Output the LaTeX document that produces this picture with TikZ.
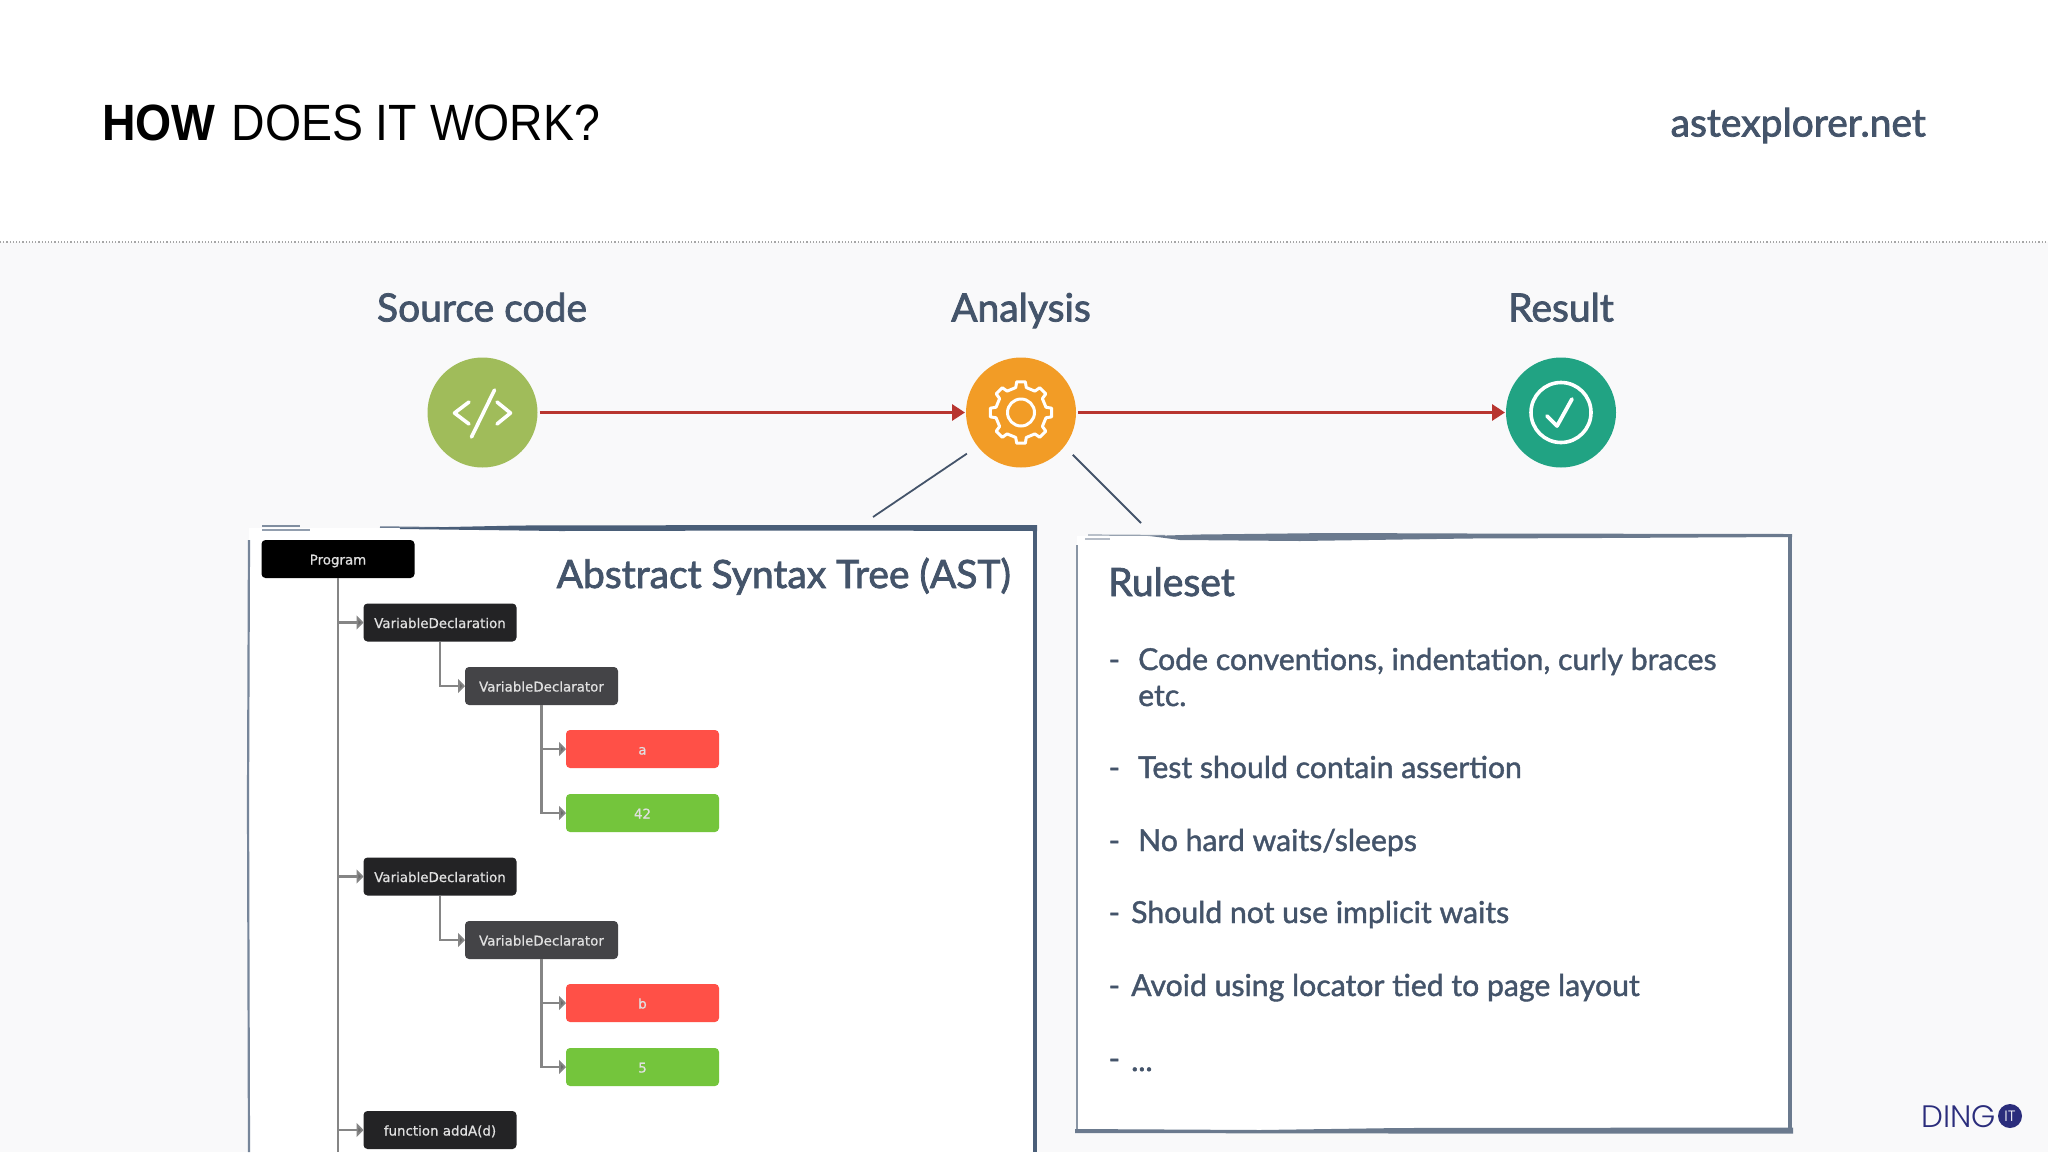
\documentclass[tikz,border=0pt]{standalone}
\usepackage{fontspec}
\usetikzlibrary{arrows.meta,calc}
\setmainfont{Lato}
\newfontfamily\latom{Lato}[FakeBold=2]
\newfontfamily\latos{Lato}[FakeBold=1.4]
\newfontfamily\rob{Liberation Sans}[FakeStretch=0.91]
\newfontfamily\treef{DejaVu Sans}[FakeBold=0.8]
\newfontfamily\pop{Poppins}[UprightFont=* Light]
\definecolor{slate}{HTML}{44546A}
\definecolor{bord}{HTML}{4A5E78}
\definecolor{bordb}{HTML}{6B7A8E}
\definecolor{page}{HTML}{F9F9FA}
\definecolor{redline}{HTML}{B8352F}
\definecolor{treeline}{HTML}{858585}
\definecolor{dingc}{HTML}{2B2D7C}
\definecolor{cgreen}{HTML}{A0BC5A}
\definecolor{corange}{HTML}{F29C26}
\definecolor{cteal}{HTML}{21A383}
\definecolor{tblack}{HTML}{000000}
\definecolor{tdark}{HTML}{232325}
\definecolor{tmid}{HTML}{444447}
\definecolor{tred}{HTML}{FF5047}
\definecolor{tgreen}{HTML}{74C53C}
\tikzset{
  x=1pt,y=-1pt,
  stepcirc/.style={circle,minimum size=110pt,inner sep=0pt,outer sep=0pt},
  head/.style={font=\fontsize{39}{46}\selectfont\latom,text=slate,inner sep=0pt,anchor=base},
  flow/.style={draw=redline,line width=3pt,-{Triangle[length=13pt,width=16pt]},shorten <=2pt,shorten >=1pt},
  icon/.style={draw=white,line width=3.6pt,line cap=round,line join=round},
  tie/.style={draw=slate,line width=1.8pt},
  treebox/.style={rounded corners=4pt,minimum width=153pt,minimum height=38pt,inner sep=0pt,outer sep=0pt,text height=12pt,text depth=1pt,font=\fontsize{13.4}{15}\selectfont\treef,text=white!88!black},
  tline/.style={draw=treeline,line width=2.6pt,-{Triangle[length=7pt,width=14pt,fill=black!58]}},
  rulet/.style={anchor=base west,inner sep=0pt,font=\fontsize{30.2}{36}\selectfont\latos,text=slate},
  big/.style={inner sep=0pt,font=\fontsize{39}{46}\selectfont\latom,text=slate,anchor=base west}
}
\begin{document}
\begin{tikzpicture}
\useasboundingbox (0,0) rectangle (2048,1152);
% page
\fill[white] (0,0) rectangle (2048,242);
\fill[page] (0,242) rectangle (2048,1152);
\draw[gray!70,line width=1.2pt,dotted] (0,242) -- (2048,242);
% heading
\node[anchor=base west,inner sep=0pt,text=black] (title) at (102,140)
  {\fontsize{51}{60}\selectfont\rob{\bfseries HOW}\hspace{3pt} DOES IT WORK?};
\node[anchor=base east,inner sep=0pt,text=slate,font=\fontsize{39}{46}\selectfont\latom] (site) at (1926,136.5) {astexplorer.net};
% flow labels
\node[head] (lsrc) at (482,321.5) {Source code};
\node[head] (lana) at (1021,321.5) {Analysis};
\node[head] (lres) at (1561,321.5) {Result};
% circles
\node[stepcirc,fill=cgreen] (src) at (482.5,412.5) {};
\node[stepcirc,fill=corange] (ana) at (1021,412.5) {};
\node[stepcirc,fill=cteal] (res) at (1561,412.5) {};
\draw[flow] (src) -- (ana);
\draw[flow] (ana) -- (res);
% code icon
\draw[icon] (469,402) -- (454.5,413) -- (469,424);
\draw[icon] (497,402) -- (510.5,413) -- (497,424);
\draw[icon] (494.5,390) -- (471.5,437);
% gear icon
\draw[icon,line width=3pt] ([shift={(-12:25.5)}]ana.center)
  \foreach \a in {0,45,...,315} {
    -- ([shift={(\a-12:25.5)}]ana.center)
    -- ([shift={(\a-8:31)}]ana.center)
    -- ([shift={(\a+8:31)}]ana.center)
    -- ([shift={(\a+12:25.5)}]ana.center)
  } -- cycle;
\draw[icon,line width=3pt] (ana.center) circle[radius=13.5];
% check icon
\draw[icon,line width=3.6pt] (res.center) circle[radius=30];
\draw[icon,line width=3.8pt] (1547,416) -- (1557,426) -- (1572,399);
% panels
\fill[white] (249,528) rectangle (1036,1152);
\fill[white] (1077,536) rectangle (1790,1130);
% AST border
\draw[bord!70,line width=1.2pt] (262,526) -- (300,526);
\draw[bord!60,line width=1.2pt] (262,530) -- (310,530);
\draw[bord!80,line width=1.5pt] (380,527) -- (460,528);
\fill[bord] (400,528) -- (520,525.5) -- (800,525) -- (1037,525) -- (1037,531) -- (800,530.5) -- (560,531) -- (400,529) -- cycle;
\draw[bord,line width=4pt] (1035,525) -- (1035,1152);
\draw[bord!75,line width=2.2pt] (249,540) -- (248,800) -- (249,1152);
% Ruleset border
\draw[bordb!70,line width=1.2pt] (1088,535) -- (1165,535.5);
\draw[bordb!50,line width=1.2pt] (1085,539) -- (1110,539);
\fill[bordb] (1150,536) -- (1200,534.5) -- (1330,533) -- (1470,533.5) -- (1790,534) -- (1792,534) -- (1792,537) -- (1600,538) -- (1470,538.5) -- (1300,541) -- (1180,540) -- cycle;
\draw[bordb,line width=3.5pt] (1790,534) -- (1790,1132);
\draw[bordb!80,line width=2.2pt] (1077,545) -- (1077,1132);
\fill[bordb] (1075,1129) -- (1260,1130) -- (1400,1128) -- (1793,1127.5) -- (1793,1133.5) -- (1400,1133.5) -- (1075,1133) -- cycle;
% ties
\coordinate (astTop) at (873,517);
\coordinate (ruleTop) at (1141,523);
\draw[tie,shorten <=13pt] (ana.-142) -- (astTop);
\draw[tie,shorten <=12pt] (ana.-38) -- (ruleTop);
% AST title, ruleset
\node[big,anchor=base east] (astt) at (1011,588) {Abstract Syntax Tree (AST)};
\node[big] (rset) at (1108,596) {Ruleset};
\node[rulet] (d1) at (1108.5,670) {-};
\node[rulet] (r1) at (1138,670) {Code conventions, indentation, curly braces};
\node[rulet] (r1b) at (1138,706) {etc.};
\node[rulet] (d2) at (1108.5,778) {-};
\node[rulet] (r2) at (1138,778) {Test should contain assertion};
\node[rulet] (d3) at (1108.5,851) {-};
\node[rulet] (r3) at (1138,851) {No hard waits/sleeps};
\node[rulet] (d4) at (1108.5,923) {-};
\node[rulet] (r4) at (1131,923) {Should not use implicit waits};
\node[rulet] (d5) at (1108.5,996) {-};
\node[rulet] (r5) at (1131,996) {Avoid using locator tied to page layout};
\node[rulet] (d6) at (1108.5,1069) {-};
\node[rulet] (r6) at (1131,1071) {...};
% tree
\node[treebox,fill=tblack] (prog) at (338,559) {Program};
\node[treebox,fill=tdark] (vd1) at (440,622.5) {VariableDeclaration};
\node[treebox,fill=tmid] (dc1) at (541.5,686) {VariableDeclarator};
\node[treebox,fill=tred] (na) at (642.5,749) {a};
\node[treebox,fill=tgreen] (n42) at (642.5,813) {42};
\node[treebox,fill=tdark] (vd2) at (440,876.5) {VariableDeclaration};
\node[treebox,fill=tmid] (dc2) at (541.5,940) {VariableDeclarator};
\node[treebox,fill=tred] (nb) at (642.5,1003) {b};
\node[treebox,fill=tgreen] (n5) at (642.5,1067) {5};
\node[treebox,fill=tdark] (fn) at (440,1130) {function addA(d)};
\coordinate (treeEnd) at (338,1152);
\draw[draw=treeline,line width=2.6pt] (prog.south) -- (treeEnd);
\draw[tline] (prog.south) |- (vd1.west);
\draw[tline] (prog.south) |- (vd2.west);
\draw[tline] (prog.south) |- (fn.west);
\draw[tline] (vd1.south) |- (dc1.west);
\draw[tline] (vd2.south) |- (dc2.west);
\draw[tline] (dc1.south) |- (na.west);
\draw[tline] (dc1.south) |- (n42.west);
\draw[tline] (dc2.south) |- (nb.west);
\draw[tline] (dc2.south) |- (n5.west);
% logo
\node[anchor=base west,inner sep=0pt,text=dingc,font=\fontsize{31}{36}\selectfont\pop] (ding) at (1921,1127) {DING};
\node[circle,fill=dingc,minimum size=24pt,inner sep=0pt,text=white,font=\fontsize{15}{15}\selectfont\pop] (it) at (2010,1116) {IT};
\end{tikzpicture}
\end{document}
